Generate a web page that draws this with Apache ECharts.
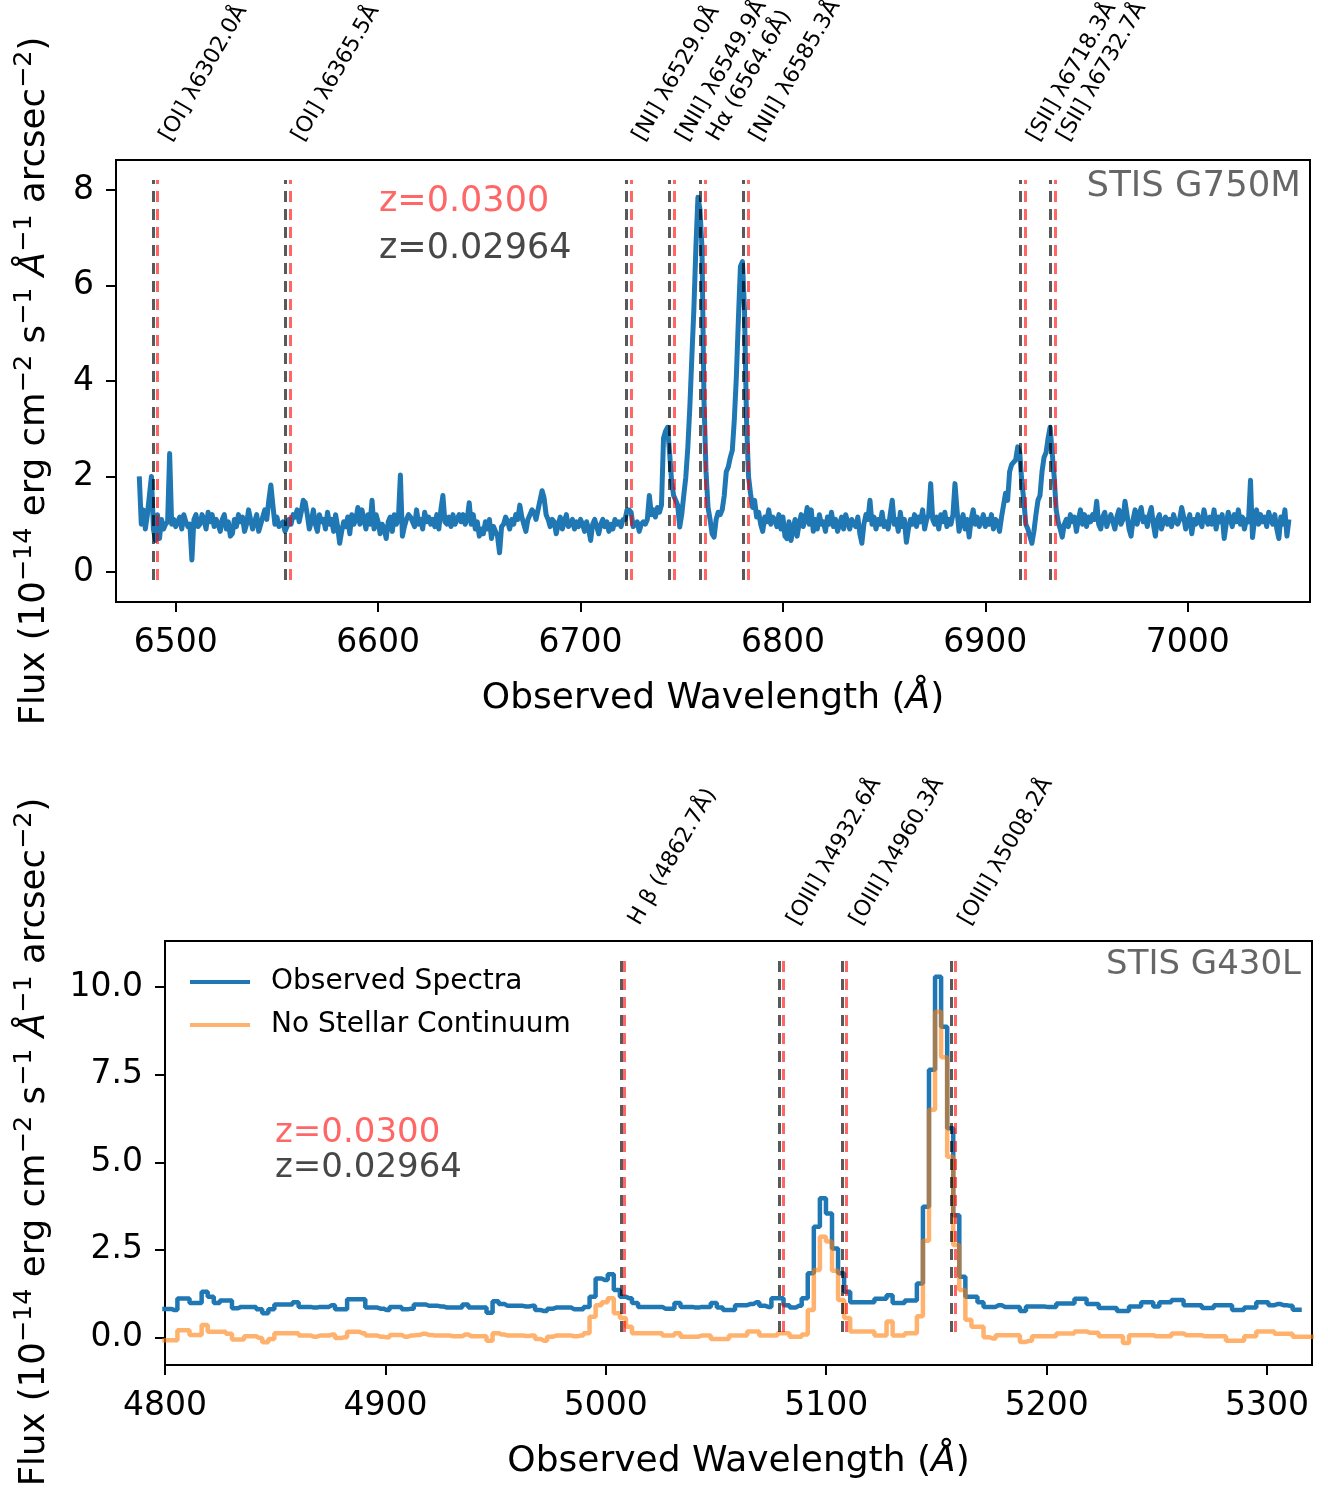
<!DOCTYPE html>
<html><head><meta charset="utf-8">
<script src="https://cdn.jsdelivr.net/npm/echarts@6/dist/echarts.min.js"></script>
<style>html,body{margin:0;padding:0;background:#fff}#c{width:1328px;height:1489px}</style>
</head><body><div id="c"></div>
<script>
// ---------- data ----------
const Z_RED = 0.0300;
const Z_GRAY = 0.02964;

const TOP_LINE_NAMES = ['[OI] λ6302.0Å','[OI] λ6365.5Å','[NI] λ6529.0Å','[NII] λ6549.9Å','Hα (6564.6Å)','[NII] λ6585.3Å','[SII] λ6718.3Å','[SII] λ6732.7Å'];
const TOP_LINE_REST = [6302.0, 6365.5, 6529.0, 6549.9, 6564.6, 6585.3, 6718.3, 6732.7];
const BOT_LINE_NAMES = ['H β (4862.7Å)','[OIII] λ4932.6Å','[OIII] λ4960.3Å','[OIII] λ5008.2Å'];
const BOT_LINE_REST = [4862.7, 4932.6, 4960.3, 5008.2];

// STIS G750M spectrum: first wavelength, pixel step (Å), flux values
const G750M_START = 6482;
const G750M_STEP = 1;
const G750M_FLUX = [
2.0,1.0,1.3,0.9,1.2,1.6,2.0,0.9,0.66,1.2,
0.7,1.1,0.9,1.0,1.05,2.48,1.0,1.1,0.95,1.05,
1.15,0.9,1.2,1.05,0.95,1.0,0.25,1.1,1.2,0.95,
1.0,1.2,1.1,0.9,1.25,1.05,1.2,0.95,1.1,1.0,
0.85,1.1,1.2,0.9,1.05,0.75,0.8,1.1,0.95,1.2,
1.05,1.15,0.85,1.0,1.3,1.1,0.9,1.05,1.2,0.85,
1.0,1.15,1.3,1.1,1.5,1.82,1.4,1.0,1.15,0.95,
1.0,1.05,0.85,0.95,1.1,1.0,1.2,1.15,1.3,1.05,
1.25,1.5,1.45,1.2,0.9,1.05,1.3,1.0,0.85,1.2,
1.05,1.1,0.9,1.25,1.0,1.1,0.85,1.2,0.95,0.6,
0.85,1.05,0.95,1.15,0.8,1.2,1.0,1.1,1.35,1.0,
1.3,1.1,0.9,1.2,1.0,1.5,0.9,1.2,1.05,0.8,
1.0,0.9,0.7,1.05,1.15,0.85,1.2,1.0,1.1,2.03,
0.75,0.95,1.1,1.2,1.15,1.05,0.95,1.3,1.0,1.1,
0.9,1.25,1.05,1.15,1.0,1.1,0.95,1.2,0.9,1.3,
1.6,1.05,1.0,1.15,0.95,1.2,1.0,1.1,1.2,1.05,
1.2,1.0,1.1,1.45,1.0,1.2,0.9,1.05,0.75,0.9,
0.8,1.05,0.9,1.1,0.7,0.95,0.85,0.75,0.4,0.95,
1.0,1.15,1.05,0.9,1.1,1.0,1.2,1.1,1.4,1.15,
1.0,0.85,1.1,1.2,1.3,1.25,1.1,1.3,1.5,1.7,
1.55,1.2,1.1,0.95,1.1,1.05,0.8,1.0,1.15,0.9,
1.05,1.2,0.95,1.0,1.1,0.9,1.05,0.95,1.1,1.0,
0.85,1.05,0.9,0.66,1.0,1.1,0.95,0.8,1.0,1.1,
0.95,1.05,0.85,1.0,0.9,1.1,1.0,1.05,0.95,1.1,
1.1,1.3,1.3,1.25,0.95,1.0,1.05,0.85,1.0,1.05,
1.0,1.1,1.6,1.2,1.3,1.15,1.35,1.25,1.4,2.8,
2.95,3.03,2.5,1.9,1.6,1.5,1.4,0.94,1.2,1.6,
1.98,2.6,3.45,4.5,5.5,6.8,7.85,7.6,6.8,3.6,
2.1,1.35,1.1,0.8,0.73,1.1,1.25,1.2,1.3,1.6,
2.1,2.2,2.4,2.55,3.2,4.1,5.3,6.4,6.5,5.5,
3.2,2.0,1.64,1.35,1.5,1.15,1.25,1.0,0.85,1.15,
1.05,1.3,1.0,1.15,1.1,0.95,1.2,0.9,1.15,0.75,
0.7,1.05,0.66,0.9,1.1,0.75,1.0,1.2,0.95,1.1,
1.35,1.0,1.3,0.85,1.1,0.9,1.2,1.0,1.05,0.85,
1.15,1.0,1.25,0.95,1.1,0.85,1.0,1.15,0.9,1.2,
1.05,0.9,1.1,1.0,0.95,1.15,0.8,0.6,1.0,1.2,
1.1,1.5,1.0,1.15,0.9,1.1,1.0,1.25,0.95,1.05,
0.9,1.2,1.5,1.0,1.1,0.85,1.25,0.95,1.1,0.62,
0.9,1.1,1.0,1.2,0.95,1.15,1.05,1.3,0.9,1.1,
1.2,1.85,1.1,1.0,1.15,0.9,1.2,1.05,1.25,0.95,
1.1,1.0,1.2,1.85,1.3,0.85,1.05,1.2,0.9,1.1,
0.73,1.1,1.3,1.0,1.15,0.95,1.05,1.2,0.95,1.1,
1.0,1.2,0.9,1.1,1.05,0.85,1.15,1.4,1.65,1.5,
2.1,2.25,2.3,2.35,2.62,2.5,1.9,1.5,1.0,0.9,
0.75,0.6,0.85,1.2,1.5,1.6,2.1,2.4,2.5,2.8,
3.03,2.5,2.0,1.3,1.05,0.9,0.73,1.0,1.1,0.95,
1.2,1.05,1.15,0.85,1.1,1.3,1.0,1.2,0.95,1.15,
1.05,1.2,1.1,1.48,1.0,0.9,1.15,1.25,0.95,1.1,
1.2,1.05,0.9,1.15,1.3,1.0,1.1,1.48,1.2,0.9,
0.75,1.1,1.3,1.0,1.2,1.35,1.05,1.15,0.95,1.2,
1.35,1.0,0.75,1.1,1.2,0.9,1.05,1.15,1.0,1.1,
0.95,1.2,1.05,1.0,1.1,1.35,1.15,0.9,1.05,1.2,
0.8,1.1,1.0,1.2,1.05,0.95,1.3,1.1,1.0,1.15,
1.0,1.3,0.9,1.15,1.05,1.2,0.7,1.0,1.25,1.1,
0.95,1.2,1.05,1.3,1.0,1.15,0.9,1.1,1.05,1.92,
0.72,1.1,1.3,1.0,1.2,1.05,1.15,0.95,1.25,1.1,
1.0,1.2,0.9,0.7,1.15,1.0,1.3,0.75,1.1
];

// STIS G430L spectra (binned, drawn as steps)
const G430L_START = 4798.75;
const G430L_STEP = 2.75;
const G430L_OBSERVED = [
0.81,0.81,0.78,1.11,1.11,0.98,0.98,1.30,1.16,0.98,
1.05,1.05,0.83,0.87,0.87,0.87,0.80,0.69,0.80,0.94,
0.94,0.94,1.0,0.87,0.87,0.85,0.87,0.87,0.92,0.8,
0.8,1.09,1.09,1.09,0.85,0.85,0.82,0.78,0.87,0.87,
0.80,0.82,0.94,0.94,0.9,0.9,0.88,0.85,0.85,0.85,
0.94,0.85,0.85,0.85,0.70,1.03,0.95,0.9,0.9,0.9,
0.88,0.9,0.78,0.75,0.82,0.85,0.85,0.85,0.80,0.80,
0.87,1.16,1.68,1.64,1.8,1.35,1.16,1.12,0.98,0.87,
0.87,0.87,0.87,0.82,0.82,0.98,0.87,0.87,0.85,0.87,
0.87,0.98,0.85,0.78,0.78,0.92,0.92,0.95,1.0,0.9,
0.87,1.12,1.12,0.92,0.85,0.9,1.12,1.83,3.16,3.97,
3.54,2.54,1.83,1.3,1.0,1.0,1.0,1.0,1.1,1.1,
1.2,0.98,0.98,1.05,1.05,1.54,3.73,7.64,10.3,8.87,
5.97,3.49,1.73,1.16,1.16,1.0,0.87,0.87,0.92,0.87,
0.87,0.87,0.75,0.88,0.88,0.88,0.87,0.87,0.97,0.97,
0.97,1.1,1.1,0.95,0.95,0.84,0.84,0.84,0.75,0.75,
0.88,0.88,1.0,1.0,0.88,1.0,1.0,1.07,1.07,0.92,
0.92,0.92,0.84,0.84,0.92,0.92,0.92,0.78,0.78,0.85,
0.85,1.0,1.0,0.92,0.95,0.92,0.9,0.79,0.79
];
const G430L_NO_CONTINUUM = [
-0.08,-0.08,-0.08,0.2,0.2,0.07,0.07,0.35,0.16,0.16,
0.16,0.1,-0.06,-0.06,0.03,0.03,-0.02,-0.14,-0.05,0.12,
0.12,0.12,0.12,0.05,0.05,0.02,0.05,0.05,0.08,-0.02,
0.0,0.16,0.16,0.12,0.05,0.05,0.02,0.0,0.07,0.07,
0.02,0.05,0.07,0.1,0.07,0.05,0.05,0.05,0.03,0.03,
0.08,0.03,0.03,0.03,-0.1,0.12,0.08,0.05,0.05,0.05,
0.04,0.05,-0.05,-0.1,0.02,0.05,0.05,0.05,0.03,0.05,
0.12,0.59,0.92,1.0,1.12,0.69,0.55,0.3,0.12,0.12,
0.12,0.12,0.12,0.05,0.05,0.12,0.02,0.02,0.02,0.05,
0.05,-0.05,-0.05,-0.05,0.05,0.05,0.05,0.17,0.17,0.05,
0.05,0.05,0.12,0.12,0.02,0.02,0.08,0.78,1.92,2.87,
2.74,1.9,1.07,0.55,0.17,0.17,0.17,0.17,0.05,0.05,
0.45,0.05,0.05,0.12,0.12,0.6,2.76,6.5,9.3,8.0,
5.16,2.64,1.35,0.5,0.3,0.3,0.0,-0.03,0.06,0.06,
0.06,0.06,-0.13,-0.1,0.03,0.03,0.03,0.03,0.11,0.11,
0.11,0.17,0.17,0.13,0.13,0.03,0.03,0.03,0.03,-0.16,
0.06,0.06,0.06,0.06,0.03,0.03,0.03,0.11,0.11,0.06,
0.06,0.06,0.03,0.03,0.03,0.03,-0.1,-0.1,-0.1,0.03,
0.03,0.17,0.17,0.17,0.1,0.1,0.1,0.02,0.02,0.02,0.02
];

const SERIES_NAMES = ['Observed Spectra', 'No Stellar Continuum'];
const TOP_XTICKS = [6500, 6600, 6700, 6800, 6900, 7000];
const TOP_YTICKS = [0, 2, 4, 6, 8];
const BOT_XTICKS = [4800, 4900, 5000, 5100, 5200, 5300];
const BOT_YTICKS = [0, 2.5, 5, 7.5, 10];
const TOP_XRANGE = [6470.5, 7060.4];
const TOP_YRANGE = [-0.63, 8.63];
const BOT_XRANGE = [4800, 5320.4];
const BOT_YRANGE = [-0.79, 11.32];
const TOP_VLINE_Y = [-0.17, 8.21];
const BOT_VLINE_Y = [0.15, 10.78];

// ---------- build ----------
const FONT = 'DejaVu Sans';
const BLUE = '#1f77b4';
const ORANGE = 'rgba(255,127,14,0.6)';
const RED = 'rgba(255,0,0,0.6)';
const GRAY = 'rgba(0,0,0,0.65)';

function pairs(start, step, arr) { return arr.map((v, i) => [start + i * step, v]); }
function vlines(rest, z, yr) { return rest.map(r => ({ coords: [[r * (1 + z), yr[0]], [r * (1 + z), yr[1]]] })); }

const YNAME = 'Flux (10{s|−14} erg cm{s|−2} s{s|−1} {i|Å}{s|−1} arcsec{s|−2})';
function nameStyle(pad) {
  return {
    fontSize: 35.5, fontFamily: FONT, color: '#000', lineHeight: 48, padding: pad,
    rich: { s: { fontSize: 25.5, fontFamily: FONT, verticalAlign: 'top', lineHeight: 25, color: '#000' },
            i: { fontSize: 35.5, fontFamily: FONT, fontStyle: 'italic', color: '#000' } }
  };
}
const xNameStyle = { fontSize: 36, fontFamily: FONT, color: '#000',
  rich: { i: { fontSize: 36, fontFamily: FONT, fontStyle: 'italic', color: '#000' } } };

function xAxis(gi, range, ticks) {
  return {
    type: 'value', gridIndex: gi, min: range[0], max: range[1],
    name: 'Observed Wavelength ({i|Å})', nameLocation: 'middle', nameGap: 79,
    nameTextStyle: xNameStyle, nameMoveOverlap: false,
    axisLine: { show: true, onZero: false, lineStyle: { color: '#000', width: 2 } },
    axisTick: { show: true, length: 10, lineStyle: { color: '#000', width: 2 }, customValues: ticks },
    axisLabel: { show: true, customValues: ticks, fontSize: 33, fontFamily: FONT, color: '#000', margin: 25,
                 formatter: v => String(v) },
    splitLine: { show: false }
  };
}
function yAxis(gi, range, ticks, fmt, gap, pad) {
  return {
    type: 'value', gridIndex: gi, min: range[0], max: range[1],
    name: YNAME, nameLocation: 'middle', nameGap: gap, nameRotate: 90,
    nameTextStyle: nameStyle(pad), nameMoveOverlap: false,
    axisLine: { show: true, onZero: false, lineStyle: { color: '#000', width: 2 } },
    axisTick: { show: true, length: 10, lineStyle: { color: '#000', width: 2 }, customValues: ticks },
    axisLabel: { show: true, customValues: ticks, fontSize: 33, fontFamily: FONT, color: '#000', margin: 22,
                 formatter: fmt },
    splitLine: { show: false }
  };
}
function vlineSeries(xi, rest, z, yr, color) {
  return {
    type: 'lines', coordinateSystem: 'cartesian2d', xAxisIndex: xi, yAxisIndex: xi,
    polyline: false, silent: true, z: 5,
    lineStyle: { color: color, width: 3, type: [11, 7], opacity: 1, curveness: 0 },
    data: vlines(rest, z, yr)
  };
}

const staticTexts = [
  { type: 'text', x: 379, y: 202, silent: true, style: { text: 'z=0.0300', fontSize: 35, fontFamily: FONT, fill: RED, verticalAlign: 'middle', align: 'left' } },
  { type: 'text', x: 379, y: 249, silent: true, style: { text: 'z=0.02964', fontSize: 35, fontFamily: FONT, fill: 'rgba(0,0,0,0.72)', verticalAlign: 'middle', align: 'left' } },
  { type: 'text', x: 1301, y: 187, silent: true, style: { text: 'STIS G750M', fontSize: 35.5, fontFamily: FONT, fill: 'rgba(0,0,0,0.6)', verticalAlign: 'middle', align: 'right' } },
  { type: 'text', x: 275, y: 1133, silent: true, style: { text: 'z=0.0300', fontSize: 34, fontFamily: FONT, fill: RED, verticalAlign: 'middle', align: 'left' } },
  { type: 'text', x: 275, y: 1168, silent: true, style: { text: 'z=0.02964', fontSize: 34, fontFamily: FONT, fill: 'rgba(0,0,0,0.72)', verticalAlign: 'middle', align: 'left' } },
  { type: 'text', x: 1301, y: 965, silent: true, style: { text: 'STIS G430L', fontSize: 34, fontFamily: FONT, fill: 'rgba(0,0,0,0.6)', verticalAlign: 'middle', align: 'right' } }
];

const option = {
  animation: false,
  backgroundColor: '#fff',
  grid: [
    { left: 116, top: 160, width: 1194, height: 442, show: true, borderColor: '#000', borderWidth: 2,
      containLabel: false, outerBoundsMode: 'none' },
    { left: 165, top: 941, width: 1147, height: 424, show: true, borderColor: '#000', borderWidth: 2,
      containLabel: false, outerBoundsMode: 'none' }
  ],
  xAxis: [xAxis(0, TOP_XRANGE, TOP_XTICKS), xAxis(1, BOT_XRANGE, BOT_XTICKS)],
  yAxis: [yAxis(0, TOP_YRANGE, TOP_YTICKS, v => String(v), 57, [0, 0, 0, 0]),
          yAxis(1, BOT_YRANGE, BOT_YTICKS, v => v.toFixed(1), 106, [0, 0, 0, 22])],
  legend: {
    data: SERIES_NAMES, orient: 'vertical', left: 185, top: 963, icon: 'rect',
    itemWidth: 60, itemHeight: 4, itemGap: 15, selectedMode: false,
    textStyle: { fontSize: 28, fontFamily: FONT, color: '#000', padding: [0, 0, 0, 16] }
  },
  graphic: staticTexts,
  series: [
    { type: 'line', name: 'G750M', xAxisIndex: 0, yAxisIndex: 0, symbol: 'none', silent: true,
      lineStyle: { color: BLUE, width: 5, join: 'round' }, itemStyle: { color: BLUE },
      data: pairs(G750M_START, G750M_STEP, G750M_FLUX) },
    vlineSeries(0, TOP_LINE_REST, Z_RED, TOP_VLINE_Y, RED),
    vlineSeries(0, TOP_LINE_REST, Z_GRAY, TOP_VLINE_Y, GRAY),

    { type: 'line', name: SERIES_NAMES[0], xAxisIndex: 1, yAxisIndex: 1, symbol: 'none', silent: true, step: 'middle',
      lineStyle: { color: BLUE, width: 4.5 }, itemStyle: { color: BLUE },
      data: pairs(G430L_START, G430L_STEP, G430L_OBSERVED) },
    { type: 'line', name: SERIES_NAMES[1], xAxisIndex: 1, yAxisIndex: 1, symbol: 'none', silent: true, step: 'middle',
      lineStyle: { color: ORANGE, width: 4.5 }, itemStyle: { color: ORANGE },
      data: pairs(G430L_START, G430L_STEP, G430L_NO_CONTINUUM) },
    vlineSeries(1, BOT_LINE_REST, Z_RED, BOT_VLINE_Y, RED),
    vlineSeries(1, BOT_LINE_REST, Z_GRAY, BOT_VLINE_Y, GRAY)
  ]
};

const chart = echarts.init(document.getElementById('c'), null, { renderer: 'canvas', width: 1328, height: 1489 });
chart.setOption(option);

// Rotated line-identification labels, placed through the axes' own scales
function lineLabels(gridIndex, rest, names, yTop, dx, dy) {
  return rest.map((r, i) => {
    const p = chart.convertToPixel({ gridIndex: gridIndex }, [r * (1 + Z_GRAY), yTop]);
    return { type: 'text', x: p[0] + dx, y: p[1] + dy, rotation: Math.PI / 3, silent: true,
             style: { text: names[i], fontSize: 22, fontFamily: FONT, fill: '#000', align: 'left', verticalAlign: 'bottom' } };
  });
}
chart.setOption({
  graphic: staticTexts
    .concat(lineLabels(0, TOP_LINE_REST, TOP_LINE_NAMES, TOP_YRANGE[1], 22, -15))
    .concat(lineLabels(1, BOT_LINE_REST, BOT_LINE_NAMES, BOT_YRANGE[1], 23, -12))
});
</script>
</body></html>
